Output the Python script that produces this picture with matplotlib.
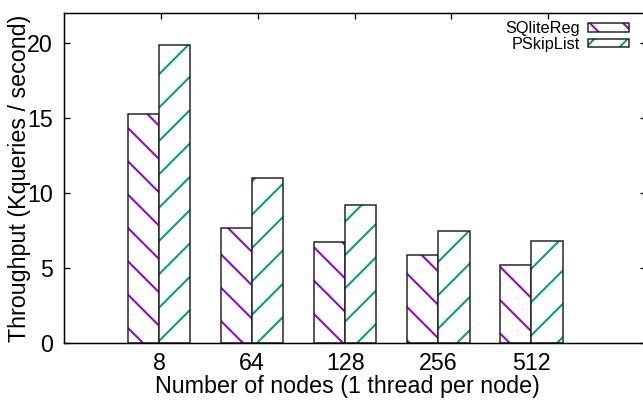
import matplotlib
matplotlib.use("Agg")
import matplotlib.pyplot as plt
from matplotlib.legend_handler import HandlerTuple
import numpy as np

# data
nodes = ["8", "64", "128", "256", "512"]
sqlitereg = [15.3, 7.7, 6.75, 5.9, 5.2]
pskiplist = [19.9, 11.0, 9.2, 7.5, 6.8]

DPI = 100
PX = 72 / DPI  # one pixel in points

plt.rcParams["font.family"] = ["Liberation Sans", "DejaVu Sans"]
plt.rcParams["hatch.linewidth"] = 2 * PX

fig = plt.figure(figsize=(643 / DPI, 403 / DPI), dpi=DPI)
# axes runs a little past the right edge, like the cropped original
ax = fig.add_axes([64 / 643, 60 / 403, 582 / 643, 330 / 403])

x = np.arange(len(nodes))
w = 0.335
purple = "#9400d3"
green = "#009e73"
edge = "#222222"

h1 = ax.bar(x - w / 2, sqlitereg, w, color="white", edgecolor=purple,
            hatch="\\", linewidth=0)
b1 = ax.bar(x - w / 2, sqlitereg, w, color="none", edgecolor=edge,
            linewidth=1.5 * PX)
h2 = ax.bar(x + w / 2, pskiplist, w, color="white", edgecolor=green,
            hatch="/", linewidth=0)
b2 = ax.bar(x + w / 2, pskiplist, w, color="none", edgecolor=edge,
            linewidth=1.5 * PX)

ax.set_xlim(-1.02, 5.23)
ax.set_ylim(0, 22)
ax.set_yticks([0, 5, 10, 15, 20])
ax.set_xticks(x)
ax.set_xticklabels(nodes)
ax.tick_params(axis="y", direction="in", length=6 * PX, width=1.3 * PX,
               right=True, labelsize=23.3 * PX, pad=11 * PX)
ax.tick_params(axis="x", length=0, labelsize=23.3 * PX, pad=9 * PX)
for s in ax.spines.values():
    s.set_linewidth(1.4 * PX)

# top mirror tics follow the original x range (-1..5)
top = ax.twiny()
top.set_xlim(-1, 5.01)
top.set_xticks(x)
top.tick_params(axis="x", direction="in", length=6 * PX, width=1.3 * PX,
                labeltop=False)

fig.text(20 / 643, (403 - 178) / 403, "Throughput (Kqueries / second)",
         rotation=90, ha="center", va="center", fontsize=23.3 * PX)
fig.text(347 / 643, (403 - 386) / 403, "Number of nodes (1 thread per node)",
         ha="center", va="center", fontsize=23.3 * PX)

leg = ax.legend([(h1[0], b1[0]), (h2[0], b2[0])], ["SQliteReg", "PSkipList"],
                handler_map={tuple: HandlerTuple(ndivide=1)},
                loc="upper right", bbox_to_anchor=(629 / 643, (403 - 21) / 403),
                bbox_transform=fig.transFigure, frameon=False, markerfirst=False,
                fontsize=16.3 * PX, handlelength=2.5, handleheight=0.45,
                handletextpad=0.5, labelspacing=0.05, borderpad=0, borderaxespad=0)
for t in leg.get_texts():
    t.set_ha("right")

fig.savefig("out.png", dpi=DPI)
